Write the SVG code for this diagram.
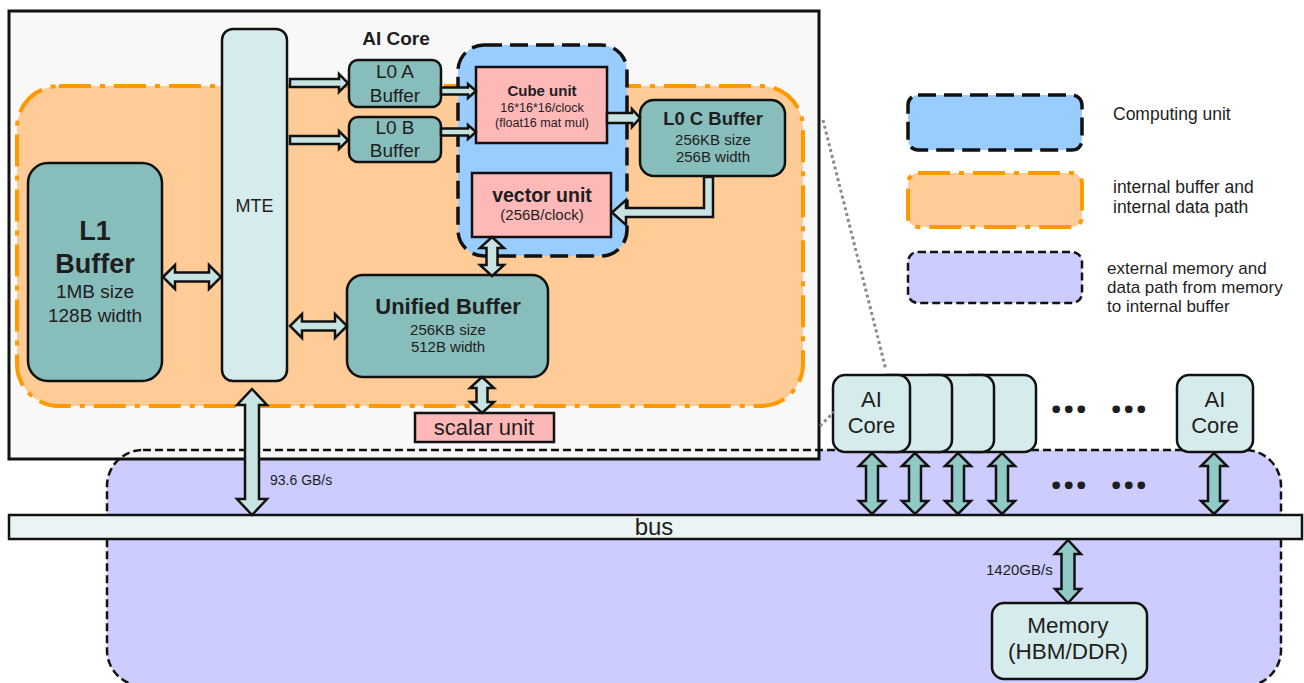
<svg xmlns="http://www.w3.org/2000/svg" xmlns:xlink="http://www.w3.org/1999/xlink" width="1304" height="683" viewBox="0 0 1304 683">
<defs>
<style>
text{font-family:"Liberation Sans",Arial,sans-serif;fill:#1e1e1e;text-anchor:middle}
.b{font-weight:bold}
.lt{text-anchor:start}
.ell{font-family:"Noto Sans","Open Sans",sans-serif;font-weight:bold;text-anchor:start}
.teal{fill:#87bdbb;stroke:#111;stroke-width:2.5}
.pale{fill:#d6ebeb;stroke:#111;stroke-width:2.5}
.pink{fill:#ffb8b8;stroke:#111;stroke-width:2.5}
.blue{fill:#99ccff;stroke:#111;stroke-width:3.5;stroke-dasharray:18 8}
.orange{fill:#ffcb97;stroke:#ff9900;stroke-width:4;stroke-dasharray:32 9 5 9}
.purple{fill:#ccccff;stroke:#111;stroke-width:2.5;stroke-dasharray:8 4}
.arr{fill:#c8e4e2;stroke:#111;stroke-width:2.5;stroke-linejoin:miter}
.arr2{fill:#8fcac6;stroke:#111;stroke-width:2.5;stroke-linejoin:miter}
.dot{stroke:#8a8a8a;stroke-width:3;stroke-dasharray:3 3;fill:none}
</style>
<polygon id="vcore" class="arr2" points="0,453 13,466 6,466 6,501 13,501 0,514 -13,501 -6,501 -6,466 -13,466"/>
</defs>

<g id="external-region">
<rect x="107" y="450" width="1174" height="236" rx="36" fill="#ccccff"/>
</g>

<g id="ai-core-frame">
<rect x="9" y="11" width="810" height="448" fill="#f8f8f8" stroke="#111" stroke-width="3"/>
<text class="b" x="396" y="45" font-size="19">AI Core</text>
</g>

<rect x="107" y="450" width="1174" height="236" rx="36" class="purple" style="fill:none"/>

<g id="internal-region">
<rect x="17" y="86" width="786" height="320" rx="42" class="orange"/>
</g>

<g id="computing-region">
<rect x="458" y="45" width="169" height="211" rx="26" class="blue"/>
</g>

<g id="mte">
<rect x="222" y="29" width="65" height="352" rx="11" class="pale"/>
<text x="254.5" y="212" font-size="18">MTE</text>
</g>

<g id="l1-buffer">
<rect x="28" y="163" width="134" height="218" rx="20" class="teal"/>
<text class="b" x="95" y="240" font-size="27">L1</text>
<text class="b" x="95" y="273" font-size="27">Buffer</text>
<text x="95" y="298" font-size="19">1MB size</text>
<text x="95" y="322" font-size="19">128B width</text>
</g>

<g id="l0a-buffer">
<rect x="349" y="60" width="92" height="47" rx="9" class="teal"/>
<text x="395" y="78" font-size="19">L0 A</text>
<text x="395" y="102" font-size="19">Buffer</text>
</g>

<g id="l0b-buffer">
<rect x="349" y="117" width="92" height="45" rx="9" class="teal"/>
<text x="395" y="134" font-size="19">L0 B</text>
<text x="395" y="157" font-size="19">Buffer</text>
</g>

<g id="cube-unit">
<rect x="476" y="67" width="131" height="76" class="pink"/>
<text class="b" x="542" y="96" font-size="15">Cube unit</text>
<text x="542" y="112" font-size="12.5">16*16*16/clock</text>
<text x="542" y="126.5" font-size="12.5">(float16 mat mul)</text>
</g>

<g id="l0c-buffer">
<rect x="640" y="100" width="145" height="76" rx="14" class="teal"/>
<text class="b" x="713" y="125" font-size="18.5">L0 C Buffer</text>
<text x="713" y="145" font-size="15">256KB size</text>
<text x="713" y="162" font-size="15">256B width</text>
</g>

<g id="vector-unit">
<rect x="472" y="173" width="139" height="64" class="pink"/>
<text class="b" x="542" y="202" font-size="19.5">vector unit</text>
<text x="542" y="220" font-size="15">(256B/clock)</text>
</g>

<g id="unified-buffer">
<rect x="347" y="275" width="201" height="102" rx="16" class="teal"/>
<text class="b" x="448" y="314" font-size="22">Unified Buffer</text>
<text x="448" y="335" font-size="15">256KB size</text>
<text x="448" y="352" font-size="15">512B width</text>
</g>

<g id="scalar-unit">
<rect x="415" y="413" width="139" height="29" class="pink"/>
<text x="484" y="435" font-size="22">scalar unit</text>
</g>

<g id="bus">
<rect x="9" y="515" width="1293" height="24" fill="#eaf4f4" stroke="#111" stroke-width="2.5"/>
<text x="654" y="535" font-size="24">bus</text>
</g>

<g id="ai-core-stack">
<rect x="959" y="375" width="77" height="77" rx="12" class="pale"/>
<rect x="917" y="375" width="77" height="77" rx="12" class="pale"/>
<rect x="875" y="375" width="77" height="77" rx="12" class="pale"/>
<rect x="833" y="375" width="77" height="77" rx="12" class="pale"/>
<text x="871.5" y="407" font-size="22">AI</text>
<text x="871.5" y="433" font-size="22">Core</text>
</g>

<g id="ai-core-last">
<rect x="1177" y="375" width="76" height="77" rx="12" class="pale"/>
<text x="1215" y="407" font-size="22">AI</text>
<text x="1215" y="433" font-size="22">Core</text>
</g>

<g id="ellipsis">
<text class="ell" x="1050" y="413" font-size="44">…</text>
<text class="ell" x="1110" y="413" font-size="44">…</text>
<text class="ell" x="1050" y="489" font-size="44">…</text>
<text class="ell" x="1110" y="489" font-size="44">…</text>
</g>

<g id="memory">
<rect x="992" y="603" width="155" height="76" rx="12" class="pale"/>
<text x="1068" y="632.5" font-size="22.5">Memory</text>
<text x="1068" y="659" font-size="22.5">(HBM/DDR)</text>
</g>

<g id="connectors">
<polygon class="arr" points="290,79 339,79 339,74 348,83 339,92 339,87 290,87"/>
<polygon class="arr" points="290,136 339,136 339,131 348,140 339,149 339,144 290,144"/>
<polygon class="arr" points="441,87.5 468,87.5 468,84 476,91 468,98 468,94.5 441,94.5"/>
<polygon class="arr" points="441,128.5 468,128.5 468,125 476,132 468,139 468,135.5 441,135.5"/>
<polygon class="arr" points="607,113 632,113 632,109 640,118 632,127 632,123 607,123"/>
<polygon class="arr" points="704,177 713,177 713,217 626,217 626,225 612,212.5 626,200 626,208 704,208"/>
<polygon class="arr" points="163,277 175,265 175,272.5 209,272.5 209,265 221,277 209,289 209,281.5 175,281.5 175,289"/>
<polygon class="arr" points="290,326 302,314 302,321.5 335,321.5 335,314 347,326 335,338 335,330.5 302,330.5 302,338"/>
<polygon class="arr" points="492,237 504,248 497.5,248 497.5,265 504,265 492,276 480,265 486.5,265 486.5,248 480,248"/>
<polygon class="arr" points="482,377 494,388 487.5,388 487.5,402 494,402 482,413 470,402 476.5,402 476.5,388 470,388"/>
<polygon class="arr" points="252,389 267,405 259,405 259,499 267,499 252,515 237,499 245,499 245,405 237,405"/>
<use xlink:href="#vcore" x="872"/>
<use xlink:href="#vcore" x="915"/>
<use xlink:href="#vcore" x="958"/>
<use xlink:href="#vcore" x="1002"/>
<use xlink:href="#vcore" x="1214"/>
<polygon class="arr2" points="1068,540 1081,554 1074.5,554 1074.5,589 1081,589 1068,603 1055,589 1061.5,589 1061.5,554 1055,554"/>
<line class="dot" x1="823" y1="120" x2="886" y2="370"/>
<line class="dot" x1="820" y1="426" x2="834" y2="412"/>
<text class="lt" x="270" y="485" font-size="14">93.6 GB/s</text>
<text class="lt" x="986" y="575" font-size="15">1420GB/s</text>
</g>

<g id="legend">
<rect x="908" y="95" width="174" height="55" rx="10" class="blue"/>
<text class="lt" x="1113" y="120" font-size="17.5">Computing unit</text>
<rect x="908" y="173" width="174" height="54" rx="10" class="orange"/>
<text class="lt" x="1113" y="193" font-size="17.5">internal buffer and</text>
<text class="lt" x="1113" y="213" font-size="17.5">internal data path</text>
<rect x="908" y="252" width="174" height="51" rx="10" class="purple"/>
<text class="lt" x="1107" y="274" font-size="17">external memory and</text>
<text class="lt" x="1107" y="293" font-size="17">data path from memory</text>
<text class="lt" x="1107" y="312" font-size="17">to internal buffer</text>
</g>
</svg>
